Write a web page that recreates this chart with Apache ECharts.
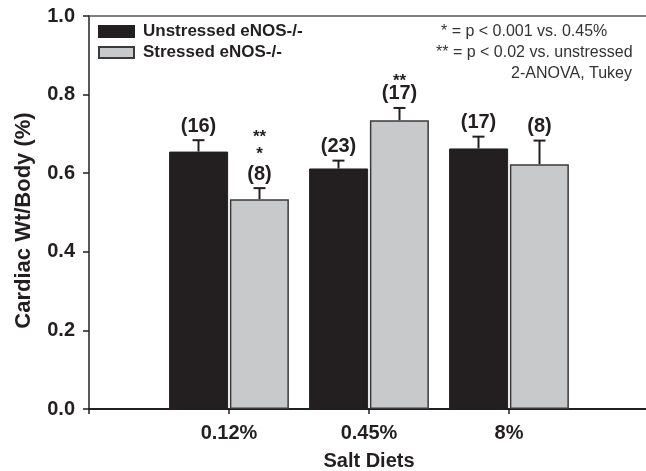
<!DOCTYPE html>
<html><head><meta charset="utf-8">
<script src="https://cdn.jsdelivr.net/npm/echarts@6/dist/echarts.min.js"></script>
<style>html,body{margin:0;padding:0;background:#fff}#c{width:646px;height:471px}</style>
</head><body><div id="c"></div>
<script>
var categories = ['', '0.12%', '0.45%', '8%', ''];
var unstressed = [null, 0.655, 0.612, 0.663, null];
var unstressedErr = [null, 0.029, 0.020, 0.030, null];
var stressed = [null, 0.534, 0.735, 0.623, null];
var stressedErr = [null, 0.028, 0.031, 0.060, null];
var unstressedN = ['', '(16)', '(23)', '(17)', ''];
var stressedN = ['', '(8)', '(17)', '(8)', ''];
var unstressedSig = [[], [], [], [], []];
var stressedSig = [[], ['**', '*'], ['**'], [], []];
var yTicks = [0, 0.2, 0.4, 0.6, 0.8, 1.0];
var notes = ['* = p < 0.001 vs. 0.45%', '** = p < 0.02 vs. unstressed', '2-ANOVA, Tukey'];

var FONT = '"Liberation Sans", Arial, sans-serif';
var BAR_W = 59, SHIFT = 30.5;

function errData(means, errs, ns, sigs) {
  var out = [];
  for (var i = 0; i < means.length; i++) {
    if (means[i] == null) continue;
    out.push({value: [i, means[i], means[i] + errs[i]], n: ns[i], sig: sigs[i]});
  }
  return out;
}
function makeErr(name, means, errs, ns, sigs, dir) {
  var d = errData(means, errs, ns, sigs);
  return {
    type: 'custom', name: name + ' err', z: 5, silent: true,
    data: d.map(function (o) { return o.value; }),
    renderItem: function (params, api) {
      var o = d[params.dataIndex];
      var b = api.coord([api.value(0), api.value(1)]);
      var t = api.coord([api.value(0), api.value(2)]);
      var x = b[0] + dir * SHIFT;
      var ch = [
        {type: 'line', shape: {x1: x, y1: b[1], x2: x, y2: t[1]}, style: {stroke: '#231f20', lineWidth: 2}},
        {type: 'line', shape: {x1: x - 6, y1: t[1], x2: x + 6, y2: t[1]}, style: {stroke: '#231f20', lineWidth: 2}},
        {type: 'text', x: x, y: t[1] - 14, style: {text: o.n, fill: '#231f20', font: 'bold 20px ' + FONT, align: 'center', verticalAlign: 'middle'}}
      ];
      for (var k = 0; k < o.sig.length; k++) {
        var s = o.sig[o.sig.length - 1 - k];
        var y = t[1] - 14 - (o.sig.length === 1 ? 13 : 20) - 17 * k;
        ch.push({type: 'text', x: x, y: y, style: {text: s, fill: '#231f20', font: 'bold 17px ' + FONT, align: 'center', verticalAlign: 'middle'}});
      }
      return {type: 'group', children: ch};
    }
  };
}

var chart = echarts.init(document.getElementById('c'), null, {renderer: 'canvas'});
chart.setOption({
  animation: false,
  backgroundColor: '#fff',
  textStyle: {fontFamily: FONT},
  grid: {left: 89, top: 16, width: 560, height: 393, containLabel: false, outerBoundsMode: 'none'},
  legend: {
    orient: 'vertical', left: 98, top: 23, padding: 0, itemWidth: 35, itemHeight: 11, itemGap: 4, icon: 'rect',
    textStyle: {fontSize: 17, fontWeight: 'bold', color: '#231f20', fontFamily: FONT, padding: [0, 0, 0, 4]},
    data: ['Unstressed eNOS-/-', 'Stressed eNOS-/-']
  },
  xAxis: [{
    type: 'category', data: categories, boundaryGap: false,
    name: 'Salt Diets', nameLocation: 'middle', nameGap: 42,
    nameTextStyle: {fontSize: 20, fontWeight: 'bold', color: '#231f20', fontFamily: FONT},
    axisLine: {lineStyle: {color: '#231f20', width: 2}},
    axisTick: {length: 5, lineStyle: {color: '#231f20', width: 1.5}},
    axisLabel: {fontSize: 20, fontWeight: 'bold', color: '#231f20', margin: 14, fontFamily: FONT},
    splitLine: {show: false}
  }, {
    type: 'category', data: categories, boundaryGap: false, position: 'top',
    axisLine: {show: true, lineStyle: {color: '#555', width: 1.5}},
    axisTick: {show: false}, axisLabel: {show: false}, splitLine: {show: false}
  }],
  yAxis: {
    type: 'value', min: 0, max: 1, interval: 0.2,
    name: 'Cardiac Wt/Body (%)', nameLocation: 'middle', nameGap: 54,
    nameTextStyle: {fontSize: 22, fontWeight: 'bold', color: '#231f20', fontFamily: FONT, padding: [0, 16, 0, 0]},
    axisLine: {show: true, lineStyle: {color: '#231f20', width: 1.5}},
    axisTick: {show: true, length: 6, lineStyle: {color: '#231f20', width: 1.5}},
    axisLabel: {fontSize: 20, fontWeight: 'bold', color: '#231f20', margin: 14, fontFamily: FONT,
      formatter: function (v) { return yTicks.indexOf(Math.round(v * 10) / 10) >= 0 ? v.toFixed(1) : ''; }},
    splitLine: {show: false}
  },
  series: [
    {type: 'bar', name: 'Unstressed eNOS-/-', data: unstressed, barWidth: BAR_W, barGap: '3%',
      itemStyle: {color: '#231f20', borderColor: '#231f20', borderWidth: 1}},
    {type: 'bar', name: 'Stressed eNOS-/-', data: stressed, barWidth: BAR_W,
      itemStyle: {color: '#c8c9cb', borderColor: '#3a3a3a', borderWidth: 1.5}},
    makeErr('Unstressed eNOS-/-', unstressed, unstressedErr, unstressedN, unstressedSig, -1),
    makeErr('Stressed eNOS-/-', stressed, stressedErr, stressedN, stressedSig, 1)
  ],
  graphic: [
    {type: 'text', left: 441, top: 24, style: {text: notes[0], font: '16px ' + FONT, fill: '#333'}},
    {type: 'text', left: 436, top: 45, style: {text: notes[1], font: '16px ' + FONT, fill: '#333'}},
    {type: 'text', right: 14, top: 66, style: {text: notes[2], font: '16px ' + FONT, fill: '#333', align: 'right'}}
  ]
});
</script></body></html>
